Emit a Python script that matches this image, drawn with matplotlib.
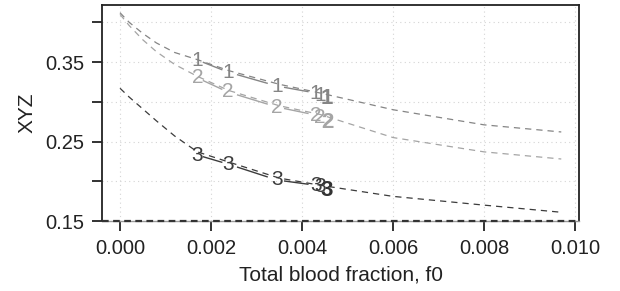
import numpy as np
import matplotlib
matplotlib.use("Agg")
import matplotlib.pyplot as plt

plt.rcParams["font.family"] = ["Liberation Sans", "DejaVu Sans"]

# dashed model curves
curve_x = [0.0, 0.0002, 0.0005, 0.0008, 0.0012, 0.0017, 0.0024, 0.0035, 0.0044, 0.006, 0.008, 0.0097]
curve1 = [0.412, 0.400, 0.386, 0.374, 0.362, 0.353, 0.339, 0.322, 0.311, 0.290, 0.271, 0.262]
curve2 = [0.410, 0.396, 0.378, 0.363, 0.347, 0.332, 0.314, 0.295, 0.284, 0.255, 0.237, 0.228]
curve3 = [0.317, 0.306, 0.291, 0.276, 0.257, 0.237, 0.224, 0.204, 0.195, 0.181, 0.170, 0.161]

# labelled points
pts_x = [0.0017, 0.00237, 0.00345, 0.0043, 0.0044]
pts1 = [0.3525, 0.3374, 0.3198, 0.311, 0.3085]
pts2 = [0.330, 0.3123, 0.2934, 0.2833, 0.2796]
pts3 = [0.233, 0.2217, 0.2016, 0.195, 0.1928]
bold_x = 0.00455
bold_y = [0.3047, 0.2745, 0.189]

labels = ["1", "2", "3"]
colors = ["#858585", "#a5a5a5", "#3c3c3c"]

fig = plt.figure(figsize=(6.2, 2.91), dpi=100)
ax = fig.add_axes([0.1645, 0.2405, 0.7694, 0.7423])

xmin, xmax = -0.000396, 0.01009
ymin, ymax = 0.15, 0.4217

for g in [0.0, 0.002, 0.004, 0.006, 0.008, 0.010]:
    ax.axvline(g, color="#d4d4d4", lw=0.8, ls=(0, (1, 3)), zorder=0)
for g in [0.15, 0.20, 0.25, 0.30, 0.35, 0.40]:
    ax.axhline(g, color="#d4d4d4", lw=0.8, ls=(0, (1, 3)), zorder=0)

ax.axhline(0.15, color="#333333", lw=1.6, ls=(0, (3, 2)), zorder=3, clip_on=False)

for cy, px, py, lab, col, by in zip([curve1, curve2, curve3], [pts_x] * 3,
                                     [pts1, pts2, pts3], labels, colors, bold_y):
    ax.plot(curve_x, cy, color=col, lw=0.9, ls=(0, (5, 4)), zorder=2)
    # solid segments between labels, with gaps round each label
    for i in range(len(px) - 2):
        x0, x1 = px[i], px[i + 1]
        y0, y1 = py[i], py[i + 1]
        f = 0.2
        ax.plot([x0 + f * (x1 - x0), x1 - f * (x1 - x0)],
                [y0 + f * (y1 - y0), y1 - f * (y1 - y0)],
                color=col, lw=1.0, zorder=2)
    for x, y in zip(px, py):
        ax.text(x, y, lab, color=col, fontsize=15, ha="center", va="center", zorder=4)
    ax.text(bold_x, by, lab, color=col if lab != "3" else "#333333", fontsize=16,
            fontweight="bold", ha="center", va="center", zorder=5)

ax.set_xlim(xmin, xmax)
ax.set_ylim(ymin, ymax)

ax.set_xticks([0.0, 0.002, 0.004, 0.006, 0.008, 0.010])
ax.set_xticklabels(["0.000", "0.002", "0.004", "0.006", "0.008", "0.010"])
ax.set_yticks([0.15, 0.20, 0.25, 0.30, 0.35, 0.40])
ax.set_yticklabels(["0.15", "", "0.25", "", "0.35", ""])
ax.tick_params(axis="both", direction="out", length=7, width=1.3, color="#222222",
               labelsize=14.5, labelcolor="#222222", pad=6)

for s in ["left", "right", "top"]:
    ax.spines[s].set_linewidth(1.3)
    ax.spines[s].set_color("#222222")
ax.spines["bottom"].set_color("#999999")
ax.spines["bottom"].set_linewidth(1.0)

ax.set_xlabel("Total blood fraction, f0", fontsize=15, color="#222222", labelpad=5)
ax.set_ylabel("XYZ", fontsize=15, color="#222222", labelpad=6)

fig.savefig("out.png", dpi=100)
